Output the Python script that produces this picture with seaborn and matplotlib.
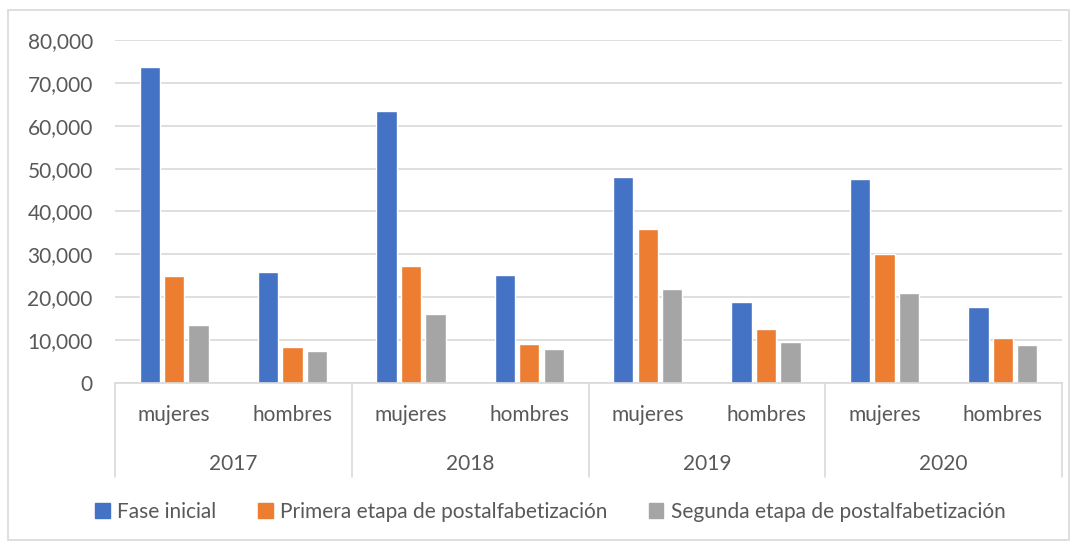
import matplotlib
matplotlib.use("Agg")
import matplotlib.pyplot as plt
import seaborn as sns
import pandas as pd
from matplotlib.ticker import FuncFormatter
from matplotlib.patches import Rectangle
from matplotlib.lines import Line2D

years = ["2017", "2018", "2019", "2020"]
sexes = ["mujeres", "hombres"]
series = ["Fase inicial", "Primera etapa de postalfabetización", "Segunda etapa de postalfabetización"]
fase_inicial = [73600, 25900, 63400, 25300, 48100, 19000, 47500, 17800]
primera_etapa = [24900, 8300, 27200, 9200, 35900, 12600, 30100, 10500]
segunda_etapa = [13600, 7400, 16200, 8000, 22000, 9600, 20900, 8900]
colors = ["#4472C4", "#ED7D31", "#A5A5A5"]

cats = [f"{y}-{s}" for y in years for s in sexes]
rows = []
for name, vals in zip(series, [fase_inicial, primera_etapa, segunda_etapa]):
    for c, v in zip(cats, vals):
        rows.append({"cat": c, "serie": name, "value": v})
df = pd.DataFrame(rows)

sns.set_theme(style="white")
plt.rcParams["font.family"] = ["Lato", "DejaVu Sans"]
txt = "#595959"
fs = 15

fig = plt.figure(figsize=(10.77, 5.44), dpi=100)
ax = fig.add_axes([115/1077, 1-383/544, (1062-115)/1077, (383-40)/544])

sns.barplot(data=df, x="cat", y="value", hue="serie", order=cats, hue_order=series,
            palette=colors, width=0.62, gap=0.17, ax=ax, legend=False, saturation=1)

ax.set_ylim(0, 80000)
ax.set_xlim(-0.5, 7.5)
ax.set_yticks(range(0, 80001, 10000))
ax.yaxis.set_major_formatter(FuncFormatter(lambda v, p: f"{int(v):,}"))
ax.grid(axis="y", color="#d9d9d9", linewidth=1.2)
ax.set_axisbelow(True)
for s in ["left", "right", "top"]:
    ax.spines[s].set_visible(False)
ax.spines["bottom"].set_color("#d9d9d9")
ax.spines["bottom"].set_linewidth(1.2)
ax.set_xlabel("")
ax.set_ylabel("")
ax.set_xticks(range(8))
ax.set_xticklabels([s for y in years for s in sexes])
ax.tick_params(axis="both", length=0, labelsize=fs, labelcolor=txt)
ax.tick_params(axis="y", pad=16)
ax.tick_params(axis="x", pad=16)

trans = ax.get_xaxis_transform()
for i, y in enumerate(years):
    ax.text(2*i + 0.5, -0.236, y, transform=trans, ha="center", va="center",
            fontsize=fs, color=txt)
for xs in [-0.5, 1.5, 3.5, 5.5, 7.5]:
    ax.add_line(Line2D([xs, xs], [0, -0.274], transform=trans, color="#d9d9d9",
                       linewidth=1.2, clip_on=False))

handles = [Rectangle((0, 0), 1, 1, color=c) for c in colors]
fig.legend(handles, series, loc="center", bbox_to_anchor=(0.511, 1-512/544), ncol=3,
           frameon=False, fontsize=fs, labelcolor=txt, handlelength=0.7,
           handleheight=0.7, handletextpad=0.35, columnspacing=2.0)

fig.add_artist(Rectangle((8/1077, 1-540/544), (1069-8)/1077, (540-10)/544,
                         transform=fig.transFigure, fill=False, edgecolor="#d9d9d9",
                         linewidth=1.2))

fig.savefig("out.png", dpi=100)
